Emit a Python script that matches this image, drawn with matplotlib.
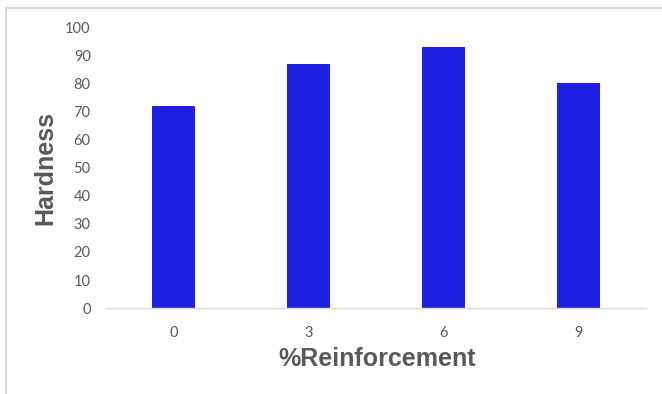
import matplotlib
matplotlib.use("Agg")
import matplotlib.pyplot as plt
from matplotlib.lines import Line2D

# data
reinforcement = ["0", "3", "6", "9"]
hardness = [72, 87, 93, 80]
y_ticks = list(range(0, 101, 10))

BAR_COLOR = "#1f1fe3"
TEXT_GRAY = "#595959"


def plot_hardness():
    fig = plt.figure(figsize=(6.62, 3.94), dpi=100)
    ax = fig.add_axes([0.160, 0.218, 0.816, 0.713])

    x = range(len(reinforcement))
    ax.bar(x, hardness, width=0.32, color=BAR_COLOR)

    ax.set_xlim(-0.5, len(reinforcement) - 0.5)
    ax.set_ylim(0, 100)
    ax.set_xticks(list(x))
    ax.set_xticklabels(reinforcement)
    ax.set_yticks(y_ticks)

    for side in ("top", "right", "left"):
        ax.spines[side].set_visible(False)
    ax.spines["bottom"].set_color("#d9d9d9")
    ax.spines["bottom"].set_linewidth(1.0)

    ax.tick_params(axis="both", length=0, labelsize=10.5, labelcolor=TEXT_GRAY)
    ax.tick_params(axis="y", pad=11)
    ax.tick_params(axis="x", pad=13)
    for lbl in ax.get_xticklabels() + ax.get_yticklabels():
        lbl.set_fontfamily("Lato")

    fig.text(0.569, 1 - 359 / 394, "%Reinforcement", ha="center", va="center",
             fontsize=18, fontweight="bold", color=TEXT_GRAY,
             family="Liberation Sans")
    fig.text(45 / 662, 1 - 168 / 394, "Hardness", ha="center", va="center",
             rotation=90, fontsize=18, fontweight="bold", color=TEXT_GRAY,
             family="Liberation Sans")

    # light frame around the chart area (only top and left show in the source)
    fig.add_artist(Line2D([6 / 662, 6 / 662], [0, 1 - 8 / 394],
                          transform=fig.transFigure, color="#d4d4d4", lw=1.2))
    fig.add_artist(Line2D([6 / 662, 1], [1 - 8 / 394, 1 - 8 / 394],
                          transform=fig.transFigure, color="#d4d4d4", lw=1.2))

    fig.savefig("out.png", dpi=100)


if __name__ == "__main__":
    plot_hardness()
